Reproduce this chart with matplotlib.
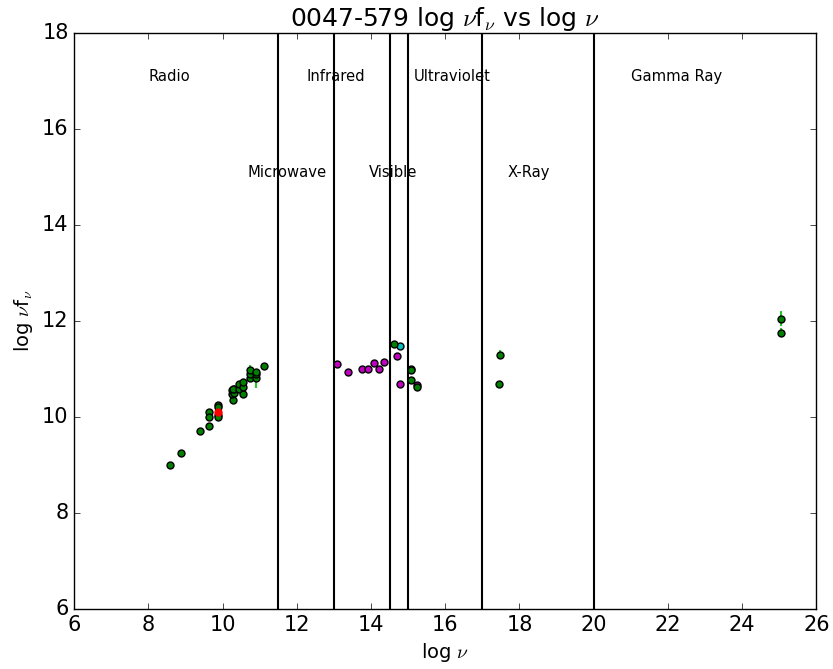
import matplotlib
matplotlib.use("Agg")
import matplotlib.pyplot as plt

plt.style.use('classic')

# Data (log nu, log nu f_nu, error)
green_x = [8.58, 8.87, 9.38, 9.63, 9.64, 9.64, 9.87, 9.87, 9.87, 9.87, 10.29, 10.26, 10.26,
           10.32, 10.32, 10.28, 10.45, 10.45, 10.56, 10.56, 10.56, 10.73, 10.73, 10.73,
           10.91, 10.91, 10.91, 11.12, 14.63, 15.07, 15.07, 15.25, 17.48, 17.46, 25.06, 25.06]
green_y = [9.01, 9.24, 9.71, 9.81, 10.10, 10.01, 10.25, 10.21, 10.04, 10.00, 10.35, 10.48, 10.56,
           10.49, 10.58, 10.58, 10.59, 10.68, 10.47, 10.63, 10.72, 10.81, 10.90, 10.97,
           10.81, 10.90, 10.93, 11.06, 11.53, 10.97, 10.78, 10.63, 11.30, 10.68, 12.05, 11.76]
green_err = [0.0, 0.0, 0.0, 0.0, 0.0, 0.0, 0.0, 0.0, 0.0, 0.0, 0.0, 0.0, 0.0,
             0.0, 0.0, 0.0, 0.0, 0.0, 0.0, 0.0, 0.0, 0.0, 0.0, 0.12,
             0.2, 0.0, 0.0, 0.0, 0.0, 0.0, 0.0, 0.0, 0.1, 0.0, 0.15, 0.1]

magenta_x = [13.08, 13.38, 13.76, 13.91, 14.09, 14.21, 14.34, 14.69, 14.78, 15.07, 15.25]
magenta_y = [11.11, 10.94, 10.99, 10.99, 11.12, 11.01, 11.15, 11.28, 10.68, 11.00, 10.67]

cyan_x = [14.78]
cyan_y = [11.47]

red_x = [9.87]
red_y = [10.11]

boundaries = [11.5, 13, 14.5, 15, 17, 20]
band_labels = ["Radio", "Microwave", "Infrared", "Visible", "Ultraviolet", "X-Ray", "Gamma Ray"]
band_label_x = [8.0, 10.66, 12.25, 13.95, 15.16, 17.67, 21.0]
band_label_y = [17, 15, 17, 15, 17, 15, 17]

fig = plt.figure(figsize=(8.33, 6.69), dpi=100, facecolor='white')
ax = fig.add_axes([0.089, 0.0897, 0.891, 0.861])
ax.set_facecolor('white')

for b in boundaries:
    ax.axvline(b, color='black', lw=1.5)

ax.errorbar(green_x, green_y, yerr=green_err, fmt='o', color='#00aa00', ecolor='#22cc22',
            mfc='green', mec='black', ms=5, mew=1, elinewidth=1.5, capsize=0, zorder=3)
ax.plot(magenta_x, magenta_y, 'o', mfc='m', mec='black', ms=5, mew=1, zorder=3)
ax.plot(cyan_x, cyan_y, 'o', mfc='c', mec='black', ms=5, mew=1, zorder=3)
ax.plot(red_x, red_y, 'o', mfc='r', mec='red', ms=5, mew=1, zorder=4)

for lab, lx, ly in zip(band_labels, band_label_x, band_label_y):
    ax.text(lx, ly, lab, fontsize=10.6, ha='left', va='baseline')

ax.set_xlim(6, 26)
ax.set_ylim(6, 18)
ax.set_xticks(range(6, 27, 2))
ax.set_yticks(range(6, 19, 2))
ax.tick_params(labelsize=15)
ax.set_title(r'0047-579 log $\nu$f$_\nu$ vs log $\nu$', fontsize=18)
ax.set_xlabel(r'log $\nu$', fontsize=14)
ax.set_ylabel(r'log $\nu$f$_\nu$', fontsize=14)

fig.savefig('out.png', dpi=100, facecolor='white')
